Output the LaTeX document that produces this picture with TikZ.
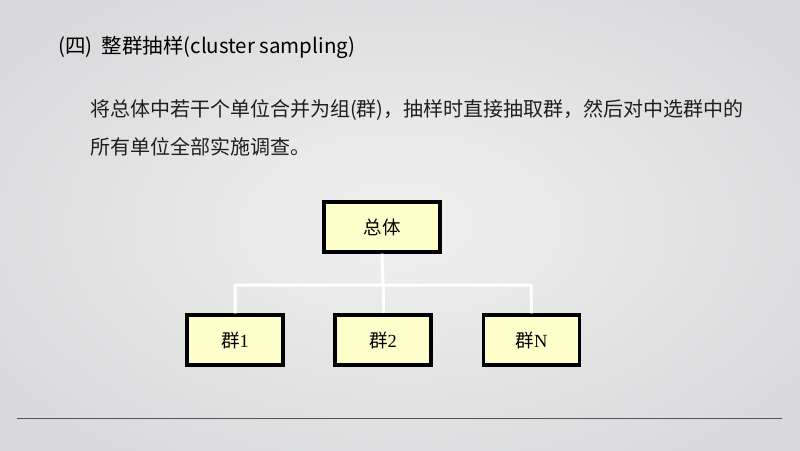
\documentclass[tikz,border=0pt]{standalone}
\usepackage{fontspec}
\setmainfont{Noto Sans CJK SC}
\newfontfamily\cjk{Noto Sans CJK SC}
\newfontfamily\serifnum{Liberation Serif}
\begin{document}
\begin{tikzpicture}[x=1pt,y=-1pt,
  boxnode/.style={draw=black,line width=3.2pt,fill=boxyellow,minimum width=96pt,minimum height=50pt,inner sep=0pt,font=\cjk\fontsize{18.5}{21}\selectfont},
  topbox/.style={boxnode,minimum width=116pt},
  link/.style={draw=white,line width=3pt}]
\definecolor{boxyellow}{HTML}{FFFFCC}
\definecolor{bgin}{HTML}{EFF0EE}
\definecolor{bgout}{HTML}{D8D8DB}
\definecolor{rulegray}{HTML}{555555}
\useasboundingbox (0,0) rectangle (800,450);
\shade[inner color=bgin,outer color=bgout] (-120,-80) rectangle (920,530);
\node[anchor=west,inner sep=0pt,font=\cjk\fontsize{20.5}{24}\selectfont] (title) at (58,47) {(四)\ \ 整群抽样(cluster sampling)};
\node[anchor=west,inner sep=0pt,font=\cjk\fontsize{20}{24}\selectfont,text=black!88] (line1) at (90,110) {将总体中若干个单位合并为组(群)，抽样时直接抽取群，然后对中选群中的};
\node[anchor=west,inner sep=0pt,font=\cjk\fontsize{20}{24}\selectfont,text=black!88] (line2) at (90,147) {所有单位全部实施调查。};
\coordinate (jl) at (235,285);
\coordinate (jm) at (383,285);
\coordinate (jr) at (531,285);
\node[topbox] (top) at (382,227) {总体};
\node[boxnode] (g1) at (235,340) {群{\serifnum 1}};
\node[boxnode] (g2) at (383,340) {群{\serifnum 2}};
\node[boxnode] (gn) at (531.5,340) {群{\serifnum N}};
\draw[link] (top.south) -- (jm);
\draw[link] (g1.north) -- (jl) -- (jr) -- (gn.north);
\draw[link] (jm) -- (g2.north);
\coordinate (rl) at (17,418);
\coordinate (rr) at (782,418);
\draw[rulegray,line width=1pt] (rl) -- (rr);
\end{tikzpicture}
\end{document}
